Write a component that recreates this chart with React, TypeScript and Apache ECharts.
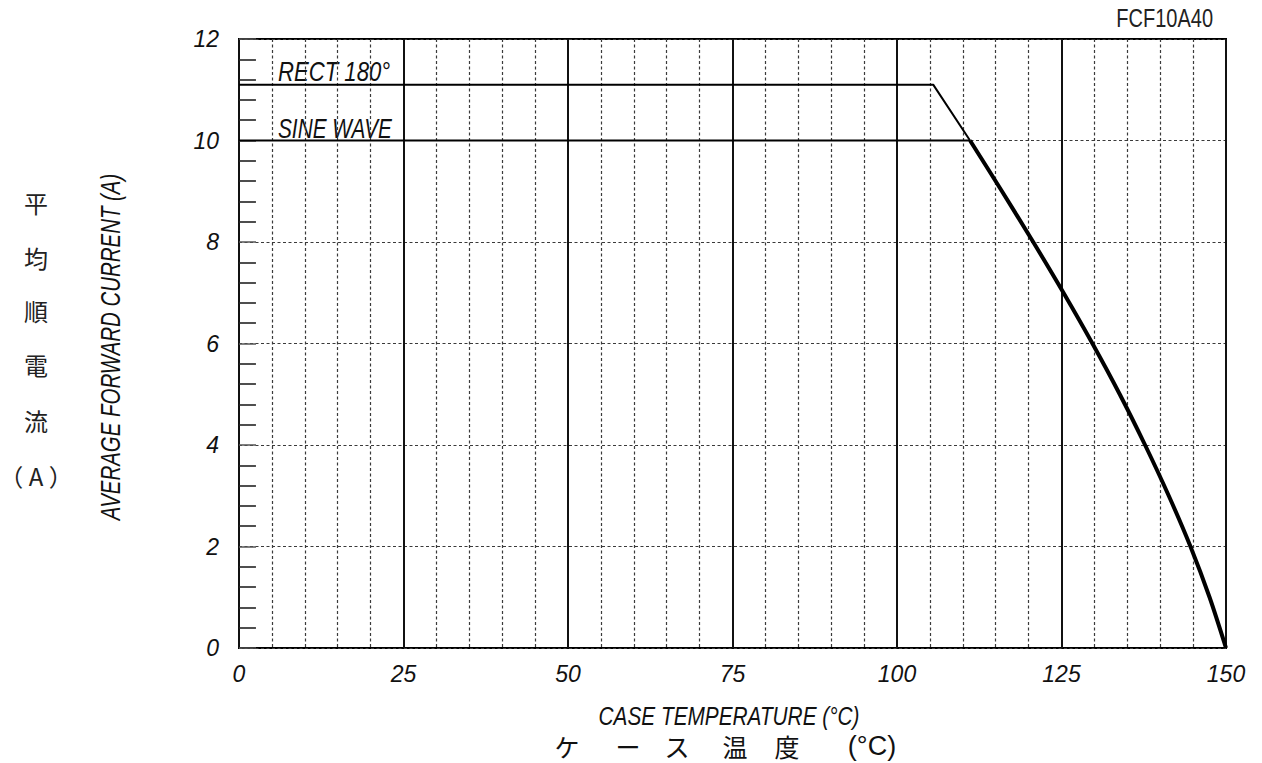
import React, { useEffect, useRef } from "react";
import * as echarts from "echarts";

// Case temperature (°C) / average forward current (A)
const rectTemps = [0, 105.5, 111.1];
const rectCurrents = [11.1, 11.1, 10];
const sineTemps = [0, 111.1];
const sineCurrents = [10, 10];
// common derating curve (both waveforms follow it after the knee)
const curveTemps = [111.1, 115.95, 120.7, 125.3, 129.7, 133.85, 137.7, 141.3, 144.6, 147.5, 150];
const curveCurrents = [10, 9, 8, 7, 6, 5, 4, 3, 2, 1, 0];

const xTicks = [0, 25, 50, 75, 100, 125, 150];
const yTicks = [0, 2, 4, 6, 8, 10, 12];

const jpYTitle = ["平", "均", "順", "電", "流", "（ A ）"];
const jpXTitle = ["ケ", "ー", "ス", "温", "度", "(°C)"];

const FONT = "'Liberation Sans', Arial, sans-serif";
const JP = "'Noto Sans CJK JP', sans-serif";

export default function App() {
  const ref = useRef<HTMLDivElement>(null);
  useEffect(() => {
    document.body.style.margin = "0";
    const chart = echarts.init(ref.current!, null, { renderer: "svg" });
    const zip = (a: number[], b: number[]) => a.map((v, i) => [v, b[i]]);
    const dashed = { color: "#3a3a3a", width: 1.2, type: [3, 2.5] as any };
    const yTitleCenters = [202, 257, 310, 364, 420, 475];
    const xTitleCenters = [567, 628, 677, 735, 787, 872];
    chart.setOption({
      animation: false,
      backgroundColor: "#fff",
      grid: {
        left: 239, top: 39, right: 36, bottom: 115,
        show: true, borderColor: "#000", borderWidth: 2, backgroundColor: "transparent",
      },
      xAxis: {
        type: "value", min: xTicks[0], max: xTicks[xTicks.length - 1], interval: 25,
        axisLine: { show: false },
        axisTick: { show: false },
        minorTick: { show: false, splitNumber: 5 },
        axisLabel: {
          margin: 14, fontFamily: FONT, fontStyle: "italic", fontSize: 23, color: "#111",
          formatter: (v: number) => (xTicks.includes(v) ? String(v) : ""),
        },
        splitLine: { show: true, lineStyle: { color: "#111", width: 2 } },
        minorSplitLine: { show: true, lineStyle: dashed },
      },
      yAxis: {
        type: "value", min: yTicks[0], max: yTicks[yTicks.length - 1], interval: 2,
        axisLine: { show: false },
        axisTick: { show: true, inside: true, length: 17, lineStyle: { color: "#555", width: 1.5 } },
        minorTick: { show: true, splitNumber: 5, length: 17, lineStyle: { color: "#222", width: 1.6 } },
        axisLabel: {
          margin: 20, fontFamily: FONT, fontStyle: "italic", fontSize: 23, color: "#111",
          formatter: (v: number) => (yTicks.includes(v) ? String(v) : ""),
        },
        splitLine: { show: true, lineStyle: dashed },
      },
      series: [
        {
          type: "line", name: "RECT 180°", data: zip(rectTemps, rectCurrents), symbol: "none",
          lineStyle: { color: "#000", width: 2 }, z: 3,
        },
        {
          type: "line", name: "SINE WAVE", data: zip(sineTemps, sineCurrents), symbol: "none",
          lineStyle: { color: "#000", width: 2 }, z: 3,
        },
        {
          type: "line", name: "common", data: zip(curveTemps, curveCurrents), symbol: "none",
          smooth: 0.3,
          lineStyle: { color: "#000", width: 4 }, z: 4,
        },
      ],
      graphic: [
        {
          type: "text", x: 1213, y: 19, scaleX: 0.8,
          style: { text: "FCF10A40", font: `25px ${FONT}`, fill: "#222", align: "right", verticalAlign: "middle" },
        },
        {
          type: "text", x: 278, y: 72, scaleX: 0.82,
          style: { text: "RECT 180°", font: `italic 27px ${FONT}`, fill: "#111", verticalAlign: "middle" },
        },
        {
          type: "text", x: 278, y: 128, scaleX: 0.77,
          style: { text: "SINE WAVE", font: `italic 27px ${FONT}`, fill: "#111", verticalAlign: "middle" },
        },
        {
          type: "text", x: 110, y: 347, rotation: Math.PI / 2, scaleX: 0.73,
          style: {
            text: "AVERAGE FORWARD CURRENT (A)", font: `italic 28px ${FONT}`, fill: "#111",
            align: "center", verticalAlign: "middle",
          },
        },
        ...jpYTitle.map((t, i) => ({
          type: "text", x: 36, y: yTitleCenters[i],
          style: {
            text: t, font: `24px ${JP}`, fill: "#222",
            align: "center", verticalAlign: "middle",
          },
        })),
        {
          type: "text", x: 729, y: 716, scaleX: 0.8,
          style: {
            text: "CASE TEMPERATURE (°C)", font: `italic 26px ${FONT}`, fill: "#111",
            align: "center", verticalAlign: "middle",
          },
        },
        ...jpXTitle.map((t, i) => ({
          type: "text", x: xTitleCenters[i], y: 746,
          style: {
            text: t, font: `${i === 5 ? 27 : 25}px ${i === 5 ? FONT : JP}`, fill: "#111",
            align: "center", verticalAlign: "middle",
          },
        })),
      ],
    });
    return () => chart.dispose();
  }, []);
  return <div ref={ref} style={{ width: 1262, height: 763 }} />;
}
